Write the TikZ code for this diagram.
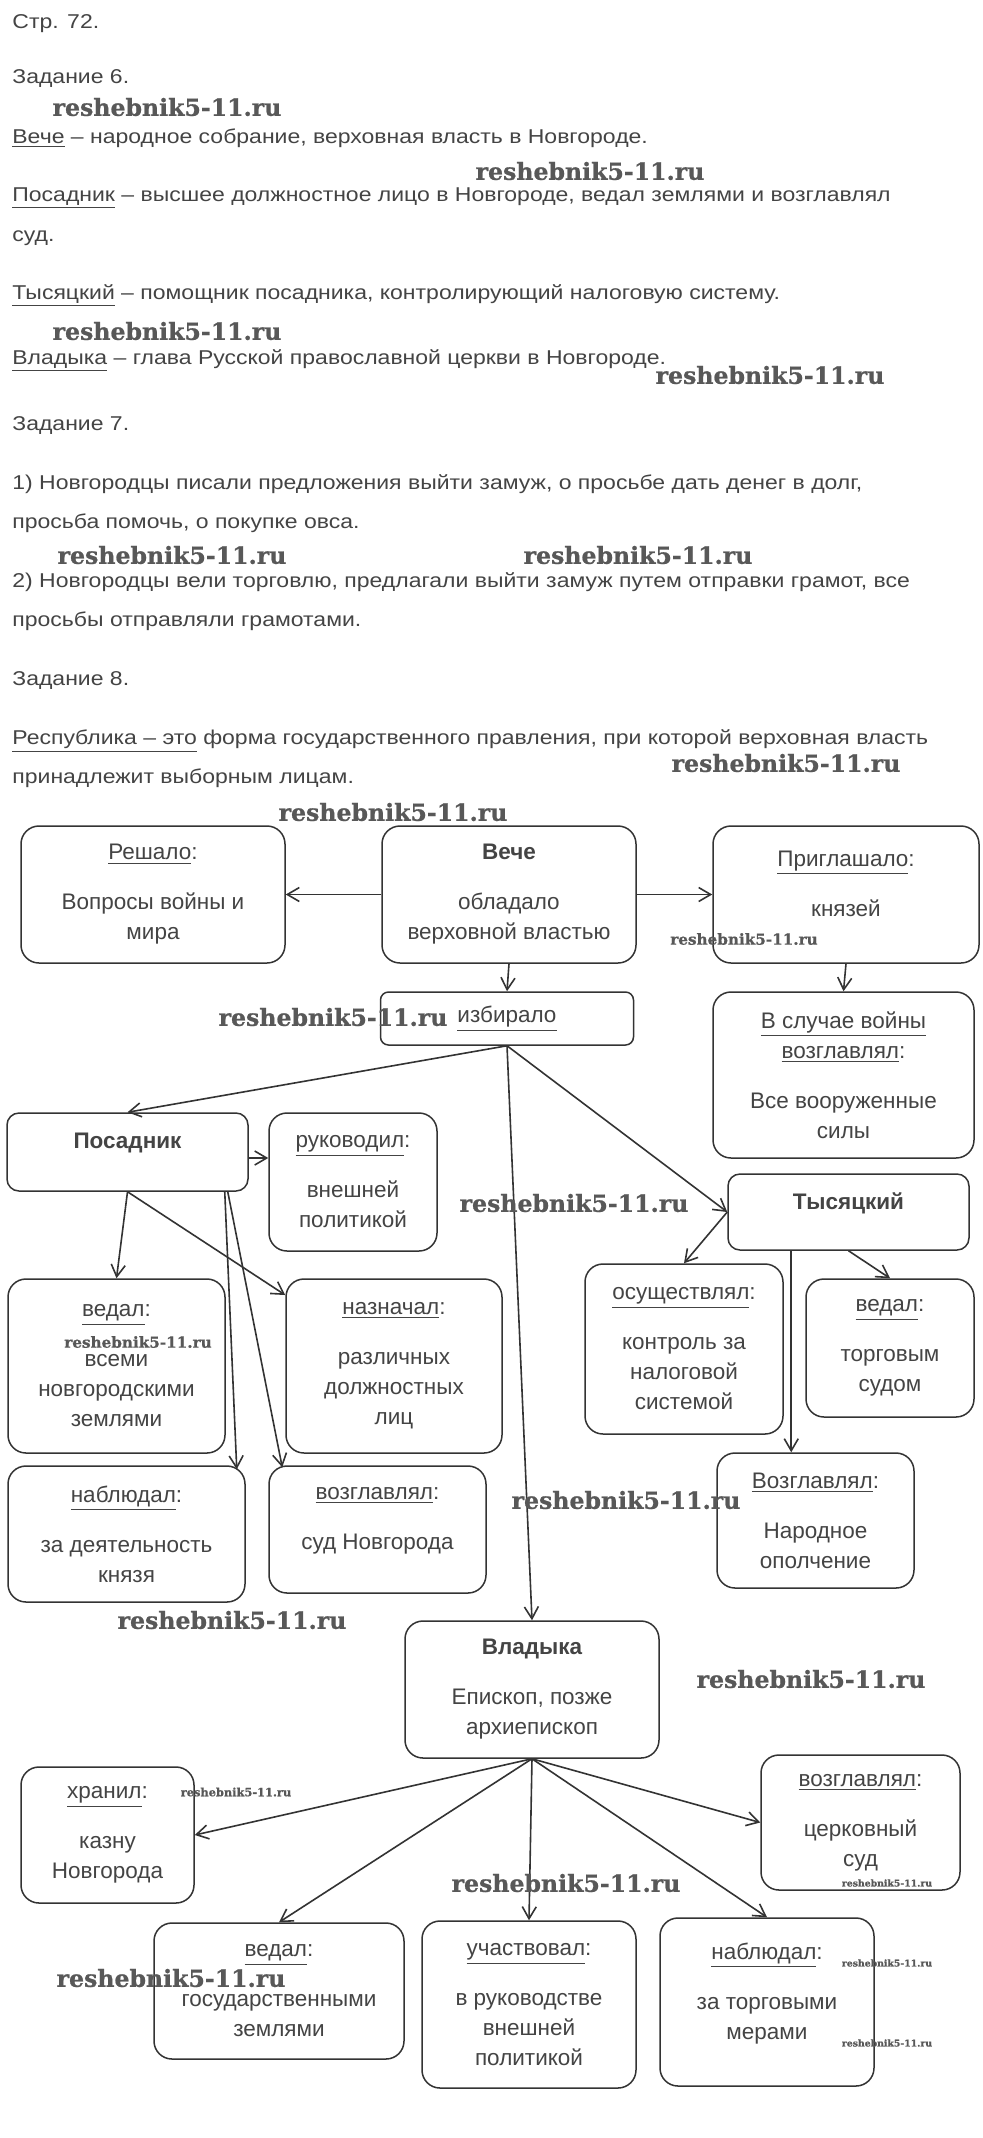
\documentclass[tikz,border=0pt]{standalone}
\usepackage{fontspec}
\setmainfont{Liberation Sans}
\newfontfamily\pagefont[FakeStretch=1.15]{Liberation Sans}
\newfontfamily\markfont[FakeBold=0.8]{DejaVu Serif}
\usetikzlibrary{arrows.meta,positioning,calc}
\definecolor{inkDark}{RGB}{51,51,51}
\definecolor{inkText}{RGB}{68,68,68}
\definecolor{inkMark}{RGB}{88,88,88}

\begin{document}
\begin{tikzpicture}[x=0.5pt,y=-0.5pt,
  para/.style={anchor=base west,inner sep=0pt,text=inkText,font=\pagefont\fontsize{10pt}{12pt}\selectfont},
  card/.style={draw=inkDark,line width=0.75pt,rounded corners=9pt,align=center,inner sep=0pt,
    text=inkText,font=\fontsize{11.25pt}{15pt}\selectfont},
  link/.style={draw=inkDark,line width=0.8pt,-{Straight Barb[length=6pt,width=7pt]}},
  mark/.style={inner sep=0pt,text=inkMark,font=\markfont\bfseries\fontsize{#1}{#1}\selectfont}]
\useasboundingbox (0,0) rectangle (982,2138);
\fill[white] (0,0) rectangle (982,2138);

% text above the scheme
\node[para] (page) at (12,28) {Стр. 72.};
\node[para] (task6) at (12,83) {Задание 6.};
\node[para] (defVeche) at (12,143) {\underline{Вече} – народное собрание, верховная власть в Новгороде.};
\node[para] (defPosadnik) at (12,201) {\underline{Посадник} – высшее должностное лицо в Новгороде, ведал землями и возглавлял};
\node[para] (defPosadnikEnd) at (12,241) {суд.};
\node[para] (defTys) at (12,299) {\underline{Тысяцкий} – помощник посадника, контролирующий налоговую систему.};
\node[para] (defVladyka) at (12,364) {\underline{Владыка} – глава Русской православной церкви в Новгороде.};
\node[para] (task7) at (12,430) {Задание 7.};
\node[para] (ansOne) at (12,489) {1) Новгородцы писали предложения выйти замуж, о просьбе дать денег в долг,};
\node[para] (ansOneEnd) at (12,528) {просьба помочь, о покупке овса.};
\node[para] (ansTwo) at (12,587) {2) Новгородцы вели торговлю, предлагали выйти замуж путем отправки грамот, все};
\node[para] (ansTwoEnd) at (12,626) {просьбы отправляли грамотами.};
\node[para] (task8) at (12,685) {Задание 8.};
\node[para] (defRep) at (12,744) {\underline{Республика – это} форма государственного правления, при которой верховная власть};
\node[para] (defRepEnd) at (12,783) {принадлежит выборным лицам.};

% scheme boxes
\node[card,minimum width=132pt,minimum height=68.5pt] (reshalo) at (153,894.5) {\underline{Решало}:\\[10pt]Вопросы войны и\\мира};
\node[card,minimum width=127pt,minimum height=68.5pt] (veche) at (509,894.5) {\textbf{Вече}\\[10pt]обладало\\верховной властью};
\node[card,minimum width=133pt,minimum height=68.5pt] (priglashalo) at (846,894.5) {\underline{Приглашало}:\\[10pt]князей\\[-4pt]\mbox{}};
\node[card,rounded corners=4pt,minimum width=126.5pt,minimum height=26.5pt] (izbiralo) at (507,1018.5) {\underline{избирало}};
\node[card,minimum width=130.5pt,minimum height=83pt] (vsluchae) at (843.5,1075) {\underline{В случае войны}\\\underline{возглавлял}:\\[10pt]Все вооруженные\\силы};

\node[card,rounded corners=6pt,minimum width=120.5pt,minimum height=39pt] (posadnik) at (127.5,1152) {\textbf{Посадник}\\[-4pt]\mbox{}};
\node[card,minimum width=84pt,minimum height=69pt] (rukovodil) at (353,1182) {\underline{руководил}:\\[10pt]внешней\\политикой};
\node[card,rounded corners=6pt,minimum width=120.5pt,minimum height=38pt] (tysyatsky) at (848.5,1212) {\textbf{Тысяцкий}\\[-4pt]\mbox{}};

\node[card,minimum width=108.5pt,minimum height=87pt] (vedalPos) at (116.5,1366) {\underline{ведал}:\\[10pt]всеми\\новгородскими\\землями};
\node[card,minimum width=108pt,minimum height=87pt] (naznachal) at (394,1366) {\underline{назначал}:\\[10pt]различных\\должностных\\лиц};
\node[card,minimum width=99pt,minimum height=85pt] (osush) at (684,1349) {\underline{осуществлял}:\\[10pt]контроль за\\налоговой\\системой};
\node[card,minimum width=84pt,minimum height=69pt] (vedalTys) at (890,1348) {\underline{ведал}:\\[10pt]торговым\\судом};
\node[card,minimum width=118.5pt,minimum height=68pt] (nablPos) at (126.5,1534) {\underline{наблюдал}:\\[10pt]за деятельность\\князя};
\node[card,minimum width=108.5pt,minimum height=63.5pt] (vozglPos) at (377.5,1529.5) {\underline{возглавлял}:\\[10pt]суд Новгорода\\[-4pt]\mbox{}};
\node[card,minimum width=98.5pt,minimum height=67.5pt] (vozglTys) at (815.5,1520.5) {\underline{Возглавлял}:\\[10pt]Народное\\ополчение};

\node[card,minimum width=127pt,minimum height=68.5pt] (vladyka) at (532,1689.5) {\textbf{Владыка}\\[10pt]Епископ, позже\\архиепископ};
\node[card,minimum width=86.5pt,minimum height=68pt] (hranil) at (107.5,1835) {\underline{хранил}:\\[10pt]казну\\Новгорода};
\node[card,minimum width=99.5pt,minimum height=67.5pt] (vozglVl) at (860.5,1822.5) {\underline{возглавлял}:\\[10pt]церковный\\суд};
\node[card,minimum width=125pt,minimum height=68pt] (vedalVl) at (279,1991) {\underline{ведал}:\\[10pt]государственными\\землями};
\node[card,minimum width=107pt,minimum height=83.5pt] (uchast) at (529,2004.5) {\underline{участвовал}:\\[10pt]в руководстве\\внешней\\политикой};
\node[card,minimum width=107pt,minimum height=84pt] (nablVl) at (767,2002) {\underline{наблюдал}:\\[10pt]за торговыми\\мерами\\[-4pt]\mbox{}};

% connectors
\draw[link] (veche.west) -- (reshalo.east);
\draw[link] (veche.east) -- (priglashalo.west);
\draw[link] (veche.south) -- (izbiralo.north);
\draw[link] (priglashalo.south) -- (vsluchae.north);
\draw[link] (izbiralo.south) -- (posadnik.north);
\draw[link] (izbiralo.south) -- (tysyatsky.west);
\draw[link] (izbiralo.south) -- (vladyka.north);

\coordinate (posRight) at ([yshift=-3pt]posadnik.east);
\coordinate (posLeg1) at ([xshift=-12pt]posadnik.south east);
\coordinate (posLeg2) at ([xshift=-10.5pt]posadnik.south east);
\draw[link] (posRight) -- (posRight -| rukovodil.west);
\draw[link] (posadnik.south) -- (vedalPos.north);
\draw[link] (posadnik.south) -- (naznachal);
\draw[link] (posLeg1) -- ([xshift=-4.5pt,yshift=-2pt]nablPos.north east);
\draw[link] (posLeg2) -- ([xshift=7pt,yshift=-1pt]vozglPos.north west);

\coordinate (tysLeg) at ([xshift=32pt]tysyatsky.south west);
\draw[link] (tysyatsky.west) -- (osush.north);
\draw[link] (tysLeg) -- (tysLeg |- vozglTys.north);
\draw[link] (tysyatsky.south) -- (vedalTys.north);

\draw[link] (vladyka.south) -- (hranil.east);
\draw[link] (vladyka.south) -- (vozglVl.west);
\draw[link] (vladyka.south) -- (vedalVl.north);
\draw[link] (vladyka.south) -- (uchast.north);
\draw[link] (vladyka.south) -- (nablVl.north);

% watermarks
\node[mark=11.8pt] (wm1) at (167,107) {reshebnik5-11.ru};
\node[mark=11.8pt] (wm2) at (590,171) {reshebnik5-11.ru};
\node[mark=11.8pt] (wm3) at (167,331) {reshebnik5-11.ru};
\node[mark=11.8pt] (wm4) at (770,375) {reshebnik5-11.ru};
\node[mark=11.8pt] (wm5) at (172,555) {reshebnik5-11.ru};
\node[mark=11.8pt] (wm6) at (638,555) {reshebnik5-11.ru};
\node[mark=11.8pt] (wm7) at (786,763) {reshebnik5-11.ru};
\node[mark=11.8pt] (wm8) at (393,812) {reshebnik5-11.ru};
\node[mark=7.6pt] (wm9) at (744,939) {reshebnik5-11.ru};
\node[mark=11.8pt] (wm10) at (333,1017) {reshebnik5-11.ru};
\node[mark=11.8pt] (wm11) at (574,1203) {reshebnik5-11.ru};
\node[mark=7.6pt] (wm12) at (138,1342) {reshebnik5-11.ru};
\node[mark=11.8pt] (wm13) at (626,1500) {reshebnik5-11.ru};
\node[mark=11.8pt] (wm14) at (232,1620) {reshebnik5-11.ru};
\node[mark=11.8pt] (wm15) at (811,1679) {reshebnik5-11.ru};
\node[mark=5.7pt] (wm16) at (236,1792) {reshebnik5-11.ru};
\node[mark=11.8pt] (wm17) at (566,1883) {reshebnik5-11.ru};
\node[mark=4.65pt] (wm18) at (887,1883) {reshebnik5-11.ru};
\node[mark=11.8pt] (wm19) at (171,1978) {reshebnik5-11.ru};
\node[mark=4.65pt] (wm20) at (887,1963) {reshebnik5-11.ru};
\node[mark=4.65pt] (wm21) at (887,2043) {reshebnik5-11.ru};
\end{tikzpicture}
\end{document}
